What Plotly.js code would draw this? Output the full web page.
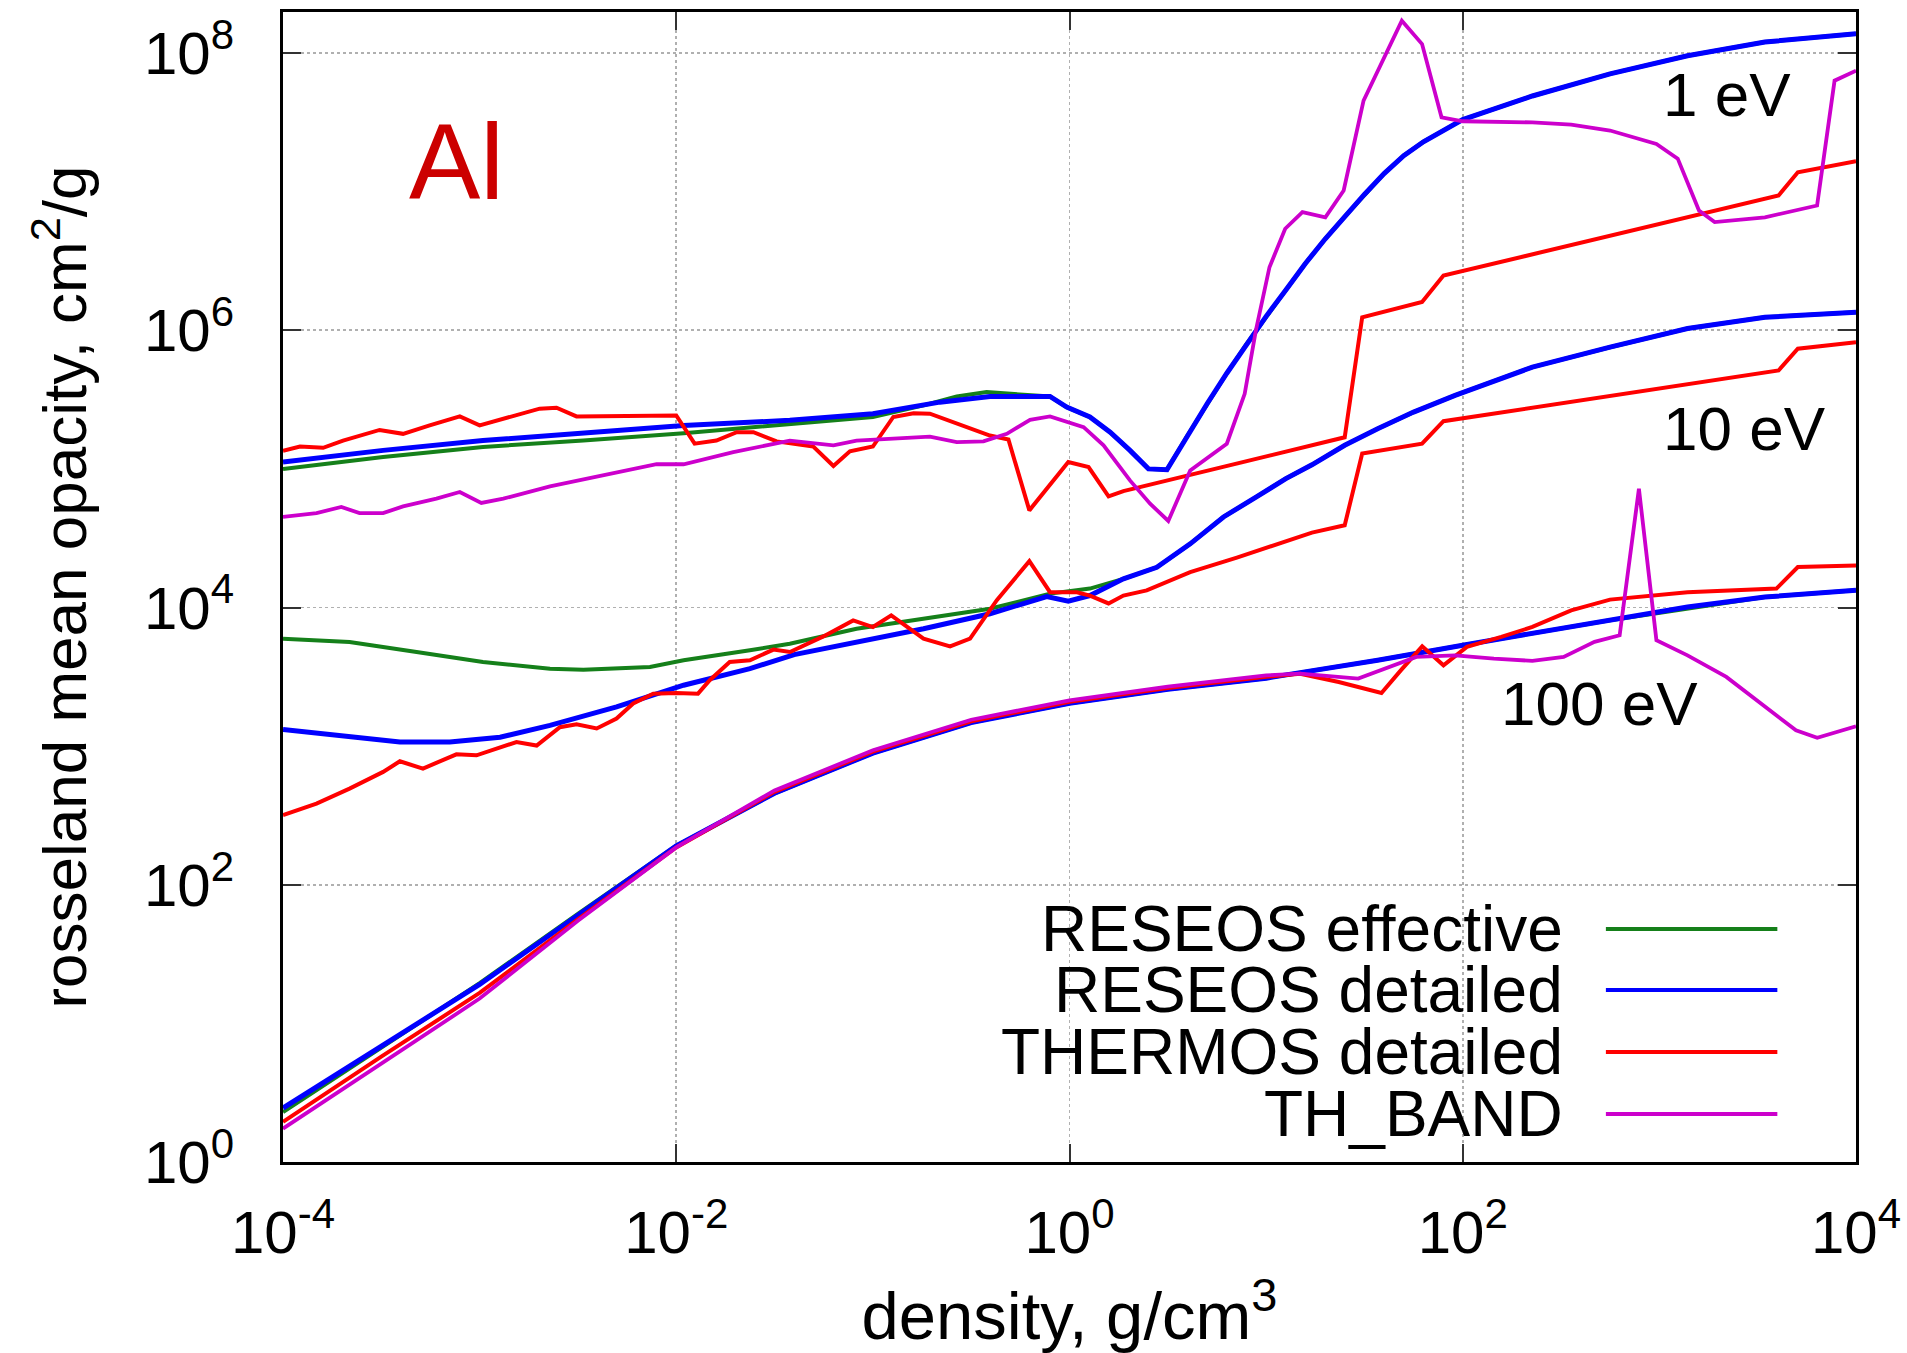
<!DOCTYPE html>
<html>
<head>
<meta charset="utf-8">
<script src="https://cdn.plot.ly/plotly-3.0.1.min.js"></script>
<style>
  html, body { margin: 0; padding: 0; background: #ffffff; }
  #chart { width: 1907px; height: 1353px; }
</style>
</head>
<body>
<div id="chart"></div>
<script>
// ---------------- data (density in g/cm^3, opacity in cm^2/g) ----------------
const seriesNames = ['RESEOS effective', 'RESEOS detailed', 'THERMOS detailed', 'TH_BAND'];
const tempLabels = ['1 eV', '10 eV', '100 eV'];
const materialLabel = 'Al';

const xTickVals = [1e-4, 1e-2, 1, 1e2, 1e4];
const xTickText = ['10<sup>-4</sup>', '10<sup>-2</sup>', '10<sup>0</sup>', '10<sup>2</sup>', '10<sup>4</sup>'];
const yTickVals = [1, 1e2, 1e4, 1e6, 1e8];
const yTickText = ['10<sup>0</sup>', '10<sup>2</sup>', '10<sup>4</sup>', '10<sup>6</sup>', '10<sup>8</sup>'];

// ---- T = 1 eV ----
const rhoEff1 = [1e-4, 3.23e-4, 1.04e-3, 3.37e-3, 1.09e-2, 3.78e-2, 0.1, 0.181, 0.267, 0.379, 0.48, 0.796, 0.968, 1.27, 1.61, 2.03, 2.52, 3.13, 3.98, 5.01, 6.31, 7.94, 10, 12.6, 15.8, 20, 25.1, 31.6, 39.8, 50.1, 63.1, 100, 226, 561, 1390, 3440, 1e4];
const kapEff1 = [1.00e5, 1.22e5, 1.44e5, 1.60e5, 1.81e5, 2.11e5, 2.37e5, 2.87e5, 3.33e5, 3.58e5, 3.48e5, 3.33e5, 2.79e5, 2.37e5, 1.84e5, 1.36e5, 1.00e5, 9.86e4, 1.74e5, 2.95e5, 4.90e5, 7.94e5, 1.26e6, 1.95e6, 3.02e6, 4.57e6, 6.61e6, 9.55e6, 1.35e7, 1.82e7, 2.29e7, 3.31e7, 4.90e7, 7.08e7, 9.55e7, 1.20e8, 1.38e8];

const rhoDet1 = [1e-4, 3.23e-4, 1.04e-3, 3.37e-3, 1.09e-2, 3.78e-2, 0.1, 0.219, 0.394, 0.796, 0.968, 1.27, 1.61, 2.03, 2.52, 3.13, 3.98, 5.01, 6.31, 7.94, 10, 12.6, 15.8, 20, 25.1, 31.6, 39.8, 50.1, 63.1, 100, 226, 561, 1390, 3440, 1e4];
const kapDet1 = [1.12e5, 1.36e5, 1.60e5, 1.81e5, 2.06e5, 2.24e5, 2.50e5, 3.03e5, 3.33e5, 3.33e5, 2.79e5, 2.37e5, 1.84e5, 1.36e5, 1.00e5, 9.86e4, 1.74e5, 2.95e5, 4.90e5, 7.94e5, 1.26e6, 1.95e6, 3.02e6, 4.57e6, 6.61e6, 9.55e6, 1.35e7, 1.82e7, 2.29e7, 3.31e7, 4.90e7, 7.08e7, 9.55e7, 1.20e8, 1.38e8];

const rhoThm1 = [1e-4, 1.22e-4, 1.60e-4, 2.02e-4, 3.10e-4, 4.08e-4, 5.57e-4, 7.93e-4, 1.00e-3, 1.54e-3, 2.02e-3, 2.46e-3, 3.11e-3, 1.00e-2, 1.24e-2, 1.60e-2, 2.03e-2, 2.47e-2, 3.24e-2, 4.98e-2, 6.30e-2, 7.64e-2, 0.100, 0.127, 0.161, 0.195, 0.267, 0.394, 0.489, 0.625, 0.986, 1.25, 1.58, 1.88, 25.1, 30.8, 62.1, 79.8, 4040, 5060, 1e4];
const kapThm1 = [1.35e5, 1.45e5, 1.42e5, 1.60e5, 1.91e5, 1.79e5, 2.06e5, 2.39e5, 2.06e5, 2.43e5, 2.72e5, 2.76e5, 2.39e5, 2.43e5, 1.52e5, 1.60e5, 1.84e5, 1.84e5, 1.58e5, 1.45e5, 1.05e5, 1.34e5, 1.45e5, 2.37e5, 2.52e5, 2.50e5, 2.11e5, 1.74e5, 1.63e5, 5.02e4, 1.12e5, 1.03e5, 6.34e4, 6.92e4, 1.69e5, 1.24e6, 1.60e6, 2.48e6, 9.38e6, 1.38e7, 1.66e7];

const rhoBand1 = [1e-4, 1.48e-4, 1.98e-4, 2.45e-4, 3.23e-4, 4.08e-4, 6.03e-4, 7.93e-4, 1.02e-3, 1.32e-3, 2.28e-3, 4.97e-3, 7.94e-3, 1.09e-2, 1.95e-2, 3.78e-2, 6.30e-2, 8.26e-2, 0.122, 0.195, 0.267, 0.365, 0.480, 0.630, 0.796, 1.18, 1.49, 2.03, 2.57, 3.18, 4.11, 6.31, 7.78, 8.87, 10.4, 12.5, 15.3, 20.0, 24.8, 31.3, 49.0, 62.1, 78.0, 100, 226, 356, 561, 966, 1240, 1590, 1910, 3440, 6340, 7780, 1e4];
const kapBand1 = [4.50e4, 4.80e4, 5.31e4, 4.80e4, 4.80e4, 5.37e4, 6.10e4, 6.81e4, 5.68e4, 6.10e4, 7.48e4, 9.48e4, 1.08e5, 1.08e5, 1.32e5, 1.60e5, 1.48e5, 1.60e5, 1.65e5, 1.71e5, 1.56e5, 1.58e5, 1.79e5, 2.26e5, 2.39e5, 2.00e5, 1.48e5, 8.26e4, 5.61e4, 4.21e4, 9.75e4, 1.52e5, 3.48e5, 9.98e5, 2.85e6, 5.40e6, 7.11e6, 6.53e6, 1.02e7, 4.54e7, 1.71e8, 1.16e8, 3.44e7, 3.22e7, 3.16e7, 3.05e7, 2.76e7, 2.21e7, 1.73e7, 7.31e6, 6.03e6, 6.53e6, 7.94e6, 6.32e7, 7.46e7];

// ---- T = 10 eV ----
const rhoEff10 = [1e-4, 2.18e-4, 4.78e-4, 1.04e-3, 2.28e-3, 3.37e-3, 7.35e-3, 1.09e-2, 2.37e-2, 3.78e-2, 8.26e-2, 0.181, 0.394, 0.796, 1.27, 1.88, 2.78, 4.11, 6.07, 8.97, 12.6, 17.1, 25.1, 36.9, 56.2, 91.4, 226, 561, 1390, 3440, 1e4];
const kapEff10 = [5.96e3, 5.64e3, 4.78e3, 4.05e3, 3.62e3, 3.56e3, 3.72e3, 4.16e3, 4.91e3, 5.48e3, 7.03e3, 8.30e3, 9.79e3, 1.26e4, 1.37e4, 1.61e4, 1.95e4, 2.88e4, 4.50e4, 6.31e4, 8.51e4, 1.07e5, 1.48e5, 1.95e5, 2.57e5, 3.39e5, 5.42e5, 7.55e5, 1.03e6, 1.24e6, 1.35e6];

const rhoDet10 = [1e-4, 1.79e-4, 3.93e-4, 7.05e-4, 1.27e-3, 2.28e-3, 4.97e-3, 1.09e-2, 2.37e-2, 3.98e-2, 8.26e-2, 0.181, 0.394, 0.766, 0.986, 1.27, 1.88, 2.78, 4.11, 6.07, 8.97, 12.6, 17.1, 25.1, 36.9, 56.2, 91.4, 226, 561, 1390, 3440, 1e4];
const kapDet10 = [1.32e3, 1.20e3, 1.07e3, 1.07e3, 1.16e3, 1.41e3, 1.92e3, 2.75e3, 3.62e3, 4.57e3, 5.64e3, 7.03e3, 9.02e3, 1.20e4, 1.11e4, 1.22e4, 1.61e4, 1.95e4, 2.88e4, 4.50e4, 6.31e4, 8.51e4, 1.07e5, 1.48e5, 1.95e5, 2.57e5, 3.39e5, 5.42e5, 7.55e5, 1.03e6, 1.24e6, 1.35e6];

const rhoThm10 = [1e-4, 1.48e-4, 2.18e-4, 3.23e-4, 3.93e-4, 5.15e-4, 7.62e-4, 9.64e-4, 1.54e-3, 1.95e-3, 2.56e-3, 3.11e-3, 3.94e-3, 4.97e-3, 6.04e-3, 7.64e-3, 1.00e-2, 1.29e-2, 1.48e-2, 1.87e-2, 2.37e-2, 3.12e-2, 3.79e-2, 5.60e-2, 7.94e-2, 0.100, 0.124, 0.181, 0.247, 0.312, 0.427, 0.625, 0.796, 1.09, 1.27, 1.58, 1.88, 2.47, 4.11, 7.10, 17.1, 25.1, 30.8, 62.1, 79.8, 4040, 5060, 1e4];
const kapThm10 = [318, 385, 494, 652, 778, 689, 873, 859, 1070, 1010, 1370, 1440, 1340, 1580, 2030, 2390, 2420, 2390, 2990, 4050, 4160, 4970, 4780, 6190, 8070, 7230, 8770, 5960, 5250, 5960, 1.13e4, 2.16e4, 1.29e4, 1.29e4, 1.22e4, 1.07e4, 1.22e4, 1.33e4, 1.80e4, 2.29e4, 3.47e4, 3.92e4, 1.29e5, 1.52e5, 2.21e5, 5.13e5, 7.36e5, 8.20e5];

// ---- T = 100 eV ----
const rhoEff100 = [1e-4, 1e-3, 3.16e-3, 1e-2, 3.16e-2, 0.1, 0.316, 1, 3.16, 10, 36.9, 100, 561, 3440, 1e4];
const kapEff100 = [2.29, 19.5, 61.7, 191, 457, 891, 1480, 2040, 2570, 3090, 4160, 5350, 8090, 1.19e4, 1.33e4];

const rhoDet100 = [1e-4, 3.16e-4, 1e-3, 3.16e-3, 1e-2, 3.16e-2, 0.1, 0.316, 1, 3.16, 10, 14.9, 36.9, 100, 226, 561, 1390, 3440, 1e4];
const kapDet100 = [2.45, 6.76, 19.1, 60.3, 191, 457, 891, 1480, 2040, 2570, 3090, 3390, 4160, 5350, 6490, 8090, 1.01e4, 1.19e4, 1.33e4];

const rhoThm100 = [1e-4, 3.16e-4, 1e-3, 3.16e-3, 1e-2, 3.16e-2, 0.1, 0.316, 1, 3.16, 10, 14.9, 23.4, 38.6, 48.4, 62.2, 79.8, 105, 157, 226, 356, 561, 1390, 3940, 5060, 1e4];
const kapThm100 = [1.95, 5.75, 16.6, 56.2, 186, 468, 912, 1510, 2090, 2630, 3160, 3330, 2900, 2420, 3520, 5250, 3830, 5200, 6140, 7240, 9550, 1.14e4, 1.29e4, 1.37e4, 1.96e4, 2.01e4];

const rhoBand100 = [1e-4, 3.16e-4, 1e-3, 3.16e-3, 1e-2, 3.16e-2, 0.1, 0.316, 1, 3.16, 10, 14.9, 29.4, 58.1, 91.4, 144, 226, 326, 468, 628, 787, 966, 1390, 2190, 3440, 4950, 6350, 8530, 1e4];
const kapBand100 = [1.74, 5.13, 15.1, 55.0, 186, 479, 933, 1550, 2140, 2690, 3240, 3330, 3070, 4400, 4520, 4280, 4120, 4400, 5650, 6310, 7.19e4, 5810, 4520, 3160, 1920, 1300, 1150, 1300, 1390];

// ---------------- styles ----------------
const seriesColors = ['#15801a', '#0000ff', '#ff0000', '#cc00cc'];
const seriesWidths = [4, 5, 4, 3.8];
const FONT = 'Liberation Sans, Arial, Helvetica, sans-serif';

const groups = [
  [[rhoEff1, kapEff1], [rhoEff10, kapEff10], [rhoEff100, kapEff100]],
  [[rhoDet1, kapDet1], [rhoDet10, kapDet10], [rhoDet100, kapDet100]],
  [[rhoThm1, kapThm1], [rhoThm10, kapThm10], [rhoThm100, kapThm100]],
  [[rhoBand1, kapBand1], [rhoBand100, kapBand100]]
];

const traces = [];
groups.forEach((set, si) => {
  set.forEach(([xs, ys]) => {
    traces.push({
      type: 'scatter', mode: 'lines', x: xs, y: ys,
      name: seriesNames[si], legendgroup: seriesNames[si], showlegend: false,
      line: { color: seriesColors[si], width: seriesWidths[si] },
      hoverinfo: 'skip'
    });
  });
});

// manual legend (text left, sample line right, as in the original)
const legendY = [0.2026, 0.1496, 0.0957, 0.0417];
const annotations = [];
const shapes = [];
seriesNames.forEach((nm, i) => {
  annotations.push({
    xref: 'paper', yref: 'paper', x: 0.815, y: legendY[i],
    xanchor: 'right', yanchor: 'middle', text: nm, showarrow: false,
    font: { family: FONT, size: 64, color: '#000' }
  });
  shapes.push({
    type: 'line', xref: 'paper', yref: 'paper',
    x0: 0.841, x1: 0.950, y0: legendY[i], y1: legendY[i],
    line: { color: seriesColors[i], width: 4 }
  });
});

// in-plot labels
const labelPos = [[0.918, 0.928], [0.929, 0.638], [0.837, 0.399]];
tempLabels.forEach((t, i) => {
  annotations.push({
    xref: 'paper', yref: 'paper', x: labelPos[i][0], y: labelPos[i][1],
    xanchor: 'center', yanchor: 'middle', text: t, showarrow: false,
    font: { family: FONT, size: 62, color: '#000' }
  });
});
annotations.push({
  xref: 'paper', yref: 'paper', x: 0.1106, y: 0.870,
  xanchor: 'center', yanchor: 'middle', text: materialLabel, showarrow: false,
  font: { family: FONT, size: 107, color: '#cc0000' }
});

const axisCommon = {
  type: 'log',
  showline: true, linecolor: '#000', linewidth: 3, mirror: 'ticks',
  ticks: 'inside', ticklen: 18, tickwidth: 2, tickcolor: '#333',
  showgrid: true, gridcolor: '#b0b0b0', gridwidth: 1.8, griddash: 'dot',
  zeroline: false, automargin: false,
  tickfont: { family: FONT, size: 60, color: '#000' },
  tickmode: 'array'
};

const layout = {
  width: 1907, height: 1353,
  margin: { l: 283, r: 51, t: 12, b: 191 },
  paper_bgcolor: '#ffffff', plot_bgcolor: '#ffffff',
  font: { family: FONT, color: '#000' },
  showlegend: false,
  xaxis: Object.assign({}, axisCommon, {
    range: [-4, 4], tickvals: xTickVals, ticktext: xTickText,
    ticklabelstandoff: 16,
    title: { text: 'density, g/cm<sup>3</sup>', font: { family: FONT, size: 67, color: '#000' }, standoff: 58 }
  }),
  yaxis: Object.assign({}, axisCommon, {
    range: [0, 8.296], tickvals: yTickVals, ticktext: yTickText,
    ticklabelstandoff: 34,
    title: { text: 'rosseland mean opacity, cm<sup>2</sup>/g', font: { family: FONT, size: 62, color: '#000' }, standoff: 38 }
  }),
  annotations: annotations,
  shapes: shapes
};

Plotly.newPlot('chart', traces, layout, { displayModeBar: false, staticPlot: true });
</script>
</body>
</html>
